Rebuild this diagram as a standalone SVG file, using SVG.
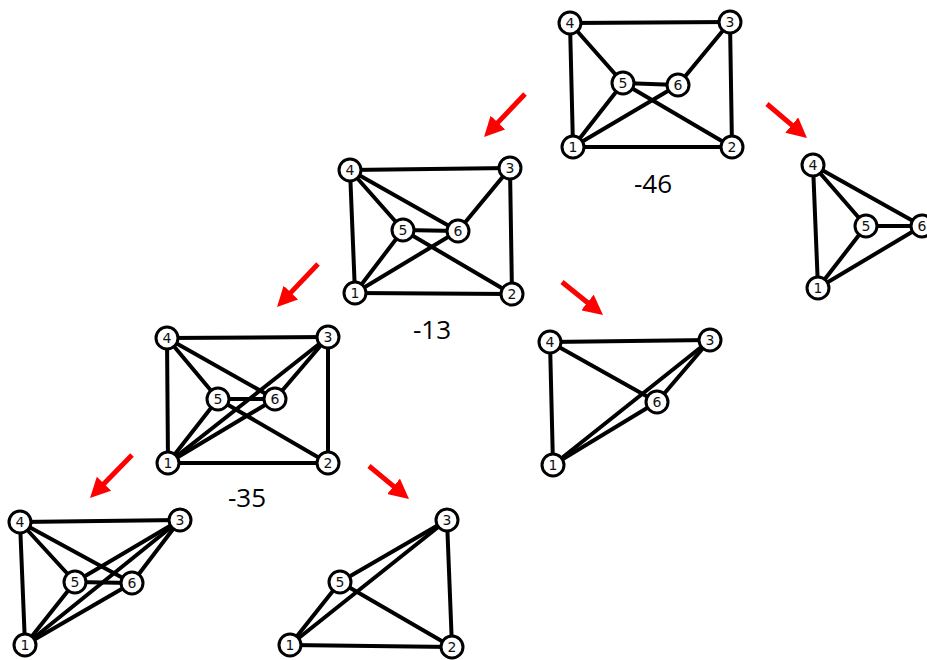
<svg xmlns="http://www.w3.org/2000/svg" width="927" height="660" viewBox="0 0 927 660">
<style>
.e{stroke:#000;stroke-width:4;stroke-linecap:round}
.n circle{fill:#fff;stroke:#000;stroke-width:3}
.n text{font-family:"DejaVu Sans",sans-serif;font-size:14px;text-anchor:middle;dominant-baseline:central;fill:#111}
.lbl{font-family:"Open Sans","Liberation Sans",sans-serif;font-size:26px;text-anchor:middle;fill:#000}
.ar{stroke:#f00;stroke-width:5;marker-end:url(#ah)}
</style>
<defs>
<marker id="ah" viewBox="0 0 10 10" refX="3" refY="5" markerWidth="4" markerHeight="4" orient="auto" markerUnits="strokeWidth">
<path d="M0,0 L10,5 L0,10 z" fill="#f00"/>
</marker>
</defs>
<rect width="927" height="660" fill="#fff"/>
<g id="connectors">
<!-- Graph A -->
<line class="e" x1="570" y1="23" x2="730" y2="22"/>
<line class="e" x1="570" y1="23" x2="573" y2="147"/>
<line class="e" x1="570" y1="23" x2="623" y2="83"/>
<line class="e" x1="730" y1="22" x2="678" y2="85"/>
<line class="e" x1="730" y1="22" x2="732" y2="147"/>
<line class="e" x1="623" y1="83" x2="678" y2="85"/>
<line class="e" x1="623" y1="83" x2="732" y2="147"/>
<line class="e" x1="573" y1="147" x2="623" y2="83"/>
<line class="e" x1="573" y1="147" x2="678" y2="85"/>
<line class="e" x1="573" y1="147" x2="732" y2="147"/>
<!-- Graph B -->
<line class="e" x1="350" y1="170" x2="510" y2="168"/>
<line class="e" x1="350" y1="170" x2="355" y2="293"/>
<line class="e" x1="350" y1="170" x2="403" y2="230"/>
<line class="e" x1="350" y1="170" x2="458" y2="231"/>
<line class="e" x1="510" y1="168" x2="458" y2="231"/>
<line class="e" x1="510" y1="168" x2="512" y2="294"/>
<line class="e" x1="403" y1="230" x2="458" y2="231"/>
<line class="e" x1="403" y1="230" x2="512" y2="294"/>
<line class="e" x1="355" y1="293" x2="403" y2="230"/>
<line class="e" x1="355" y1="293" x2="458" y2="231"/>
<line class="e" x1="355" y1="293" x2="512" y2="294"/>
<!-- Graph C -->
<line class="e" x1="167" y1="338" x2="328" y2="337"/>
<line class="e" x1="167" y1="338" x2="168" y2="463"/>
<line class="e" x1="167" y1="338" x2="218" y2="399"/>
<line class="e" x1="167" y1="338" x2="275" y2="399"/>
<line class="e" x1="328" y1="337" x2="275" y2="399"/>
<line class="e" x1="328" y1="337" x2="328" y2="463"/>
<line class="e" x1="328" y1="337" x2="168" y2="463"/>
<line class="e" x1="218" y1="399" x2="275" y2="399"/>
<line class="e" x1="218" y1="399" x2="328" y2="463"/>
<line class="e" x1="168" y1="463" x2="218" y2="399"/>
<line class="e" x1="168" y1="463" x2="275" y2="399"/>
<line class="e" x1="168" y1="463" x2="328" y2="463"/>
<!-- Graph D -->
<line class="e" x1="20" y1="522" x2="180" y2="520"/>
<line class="e" x1="20" y1="522" x2="25" y2="645"/>
<line class="e" x1="20" y1="522" x2="75" y2="582"/>
<line class="e" x1="20" y1="522" x2="132" y2="583"/>
<line class="e" x1="180" y1="520" x2="75" y2="582"/>
<line class="e" x1="180" y1="520" x2="25" y2="645"/>
<line class="e" x1="180" y1="520" x2="132" y2="583"/>
<line class="e" x1="75" y1="582" x2="132" y2="583"/>
<line class="e" x1="25" y1="645" x2="75" y2="582"/>
<line class="e" x1="25" y1="645" x2="132" y2="583"/>
<!-- Graph E -->
<line class="e" x1="447" y1="520" x2="340" y2="582"/>
<line class="e" x1="447" y1="520" x2="290" y2="645"/>
<line class="e" x1="447" y1="520" x2="452" y2="647"/>
<line class="e" x1="340" y1="582" x2="290" y2="645"/>
<line class="e" x1="340" y1="582" x2="452" y2="647"/>
<line class="e" x1="290" y1="645" x2="452" y2="647"/>
<!-- Graph F -->
<line class="e" x1="550" y1="342" x2="710" y2="340"/>
<line class="e" x1="550" y1="342" x2="553" y2="465"/>
<line class="e" x1="550" y1="342" x2="657" y2="402"/>
<line class="e" x1="710" y1="340" x2="657" y2="402"/>
<line class="e" x1="710" y1="340" x2="553" y2="465"/>
<line class="e" x1="553" y1="465" x2="657" y2="402"/>
<!-- Graph G -->
<line class="e" x1="813" y1="165" x2="818" y2="288"/>
<line class="e" x1="813" y1="165" x2="866" y2="226"/>
<line class="e" x1="813" y1="165" x2="922" y2="226"/>
<line class="e" x1="866" y1="226" x2="922" y2="226"/>
<line class="e" x1="818" y1="288" x2="866" y2="226"/>
<line class="e" x1="818" y1="288" x2="922" y2="226"/>
<!-- red arrows -->
<line class="ar" x1="525" y1="94" x2="493.7" y2="126.9"/>
<line class="ar" x1="767" y1="104" x2="796.3" y2="128.9"/>
<line class="ar" x1="318" y1="264" x2="286.7" y2="296.9"/>
<line class="ar" x1="562" y1="282" x2="592.1" y2="306.2"/>
<line class="ar" x1="132" y1="455" x2="99.8" y2="488"/>
<line class="ar" x1="369" y1="466" x2="398.2" y2="490.1"/>
</g>
<!-- Graph A nodes -->
<g id="A4" class="n"><circle cx="570" cy="23" r="11"/><text x="570" y="23">4</text></g>
<g id="A3" class="n"><circle cx="730" cy="22" r="11"/><text x="730" y="22">3</text></g>
<g id="A5" class="n"><circle cx="623" cy="83" r="11"/><text x="623" y="83">5</text></g>
<g id="A6" class="n"><circle cx="678" cy="85" r="11"/><text x="678" y="85">6</text></g>
<g id="A1" class="n"><circle cx="573" cy="147" r="11"/><text x="573" y="147">1</text></g>
<g id="A2" class="n"><circle cx="732" cy="147" r="11"/><text x="732" y="147">2</text></g>
<text class="lbl" x="653" y="193">-46</text>
<!-- Graph B nodes -->
<g id="B4" class="n"><circle cx="350" cy="170" r="11"/><text x="350" y="170">4</text></g>
<g id="B3" class="n"><circle cx="510" cy="168" r="11"/><text x="510" y="168">3</text></g>
<g id="B5" class="n"><circle cx="403" cy="230" r="11"/><text x="403" y="230">5</text></g>
<g id="B6" class="n"><circle cx="458" cy="231" r="11"/><text x="458" y="231">6</text></g>
<g id="B1" class="n"><circle cx="355" cy="293" r="11"/><text x="355" y="293">1</text></g>
<g id="B2" class="n"><circle cx="512" cy="294" r="11"/><text x="512" y="294">2</text></g>
<text class="lbl" x="432" y="339">-13</text>
<!-- Graph C nodes -->
<g id="C4" class="n"><circle cx="167" cy="338" r="11"/><text x="167" y="338">4</text></g>
<g id="C3" class="n"><circle cx="328" cy="337" r="11"/><text x="328" y="337">3</text></g>
<g id="C5" class="n"><circle cx="218" cy="399" r="11"/><text x="218" y="399">5</text></g>
<g id="C6" class="n"><circle cx="275" cy="399" r="11"/><text x="275" y="399">6</text></g>
<g id="C1" class="n"><circle cx="168" cy="463" r="11"/><text x="168" y="463">1</text></g>
<g id="C2" class="n"><circle cx="328" cy="463" r="11"/><text x="328" y="463">2</text></g>
<text class="lbl" x="247" y="507">-35</text>
<!-- Graph D nodes -->
<g id="D4" class="n"><circle cx="20" cy="522" r="11"/><text x="20" y="522">4</text></g>
<g id="D3" class="n"><circle cx="180" cy="520" r="11"/><text x="180" y="520">3</text></g>
<g id="D5" class="n"><circle cx="75" cy="582" r="11"/><text x="75" y="582">5</text></g>
<g id="D6" class="n"><circle cx="132" cy="583" r="11"/><text x="132" y="583">6</text></g>
<g id="D1" class="n"><circle cx="25" cy="645" r="11"/><text x="25" y="645">1</text></g>
<!-- Graph E nodes -->
<g id="E3" class="n"><circle cx="447" cy="520" r="11"/><text x="447" y="520">3</text></g>
<g id="E5" class="n"><circle cx="340" cy="582" r="11"/><text x="340" y="582">5</text></g>
<g id="E1" class="n"><circle cx="290" cy="645" r="11"/><text x="290" y="645">1</text></g>
<g id="E2" class="n"><circle cx="452" cy="647" r="11"/><text x="452" y="647">2</text></g>
<!-- Graph F nodes -->
<g id="F4" class="n"><circle cx="550" cy="342" r="11"/><text x="550" y="342">4</text></g>
<g id="F3" class="n"><circle cx="710" cy="340" r="11"/><text x="710" y="340">3</text></g>
<g id="F6" class="n"><circle cx="657" cy="402" r="11"/><text x="657" y="402">6</text></g>
<g id="F1" class="n"><circle cx="553" cy="465" r="11"/><text x="553" y="465">1</text></g>
<!-- Graph G nodes -->
<g id="G4" class="n"><circle cx="813" cy="165" r="11"/><text x="813" y="165">4</text></g>
<g id="G5" class="n"><circle cx="866" cy="226" r="11"/><text x="866" y="226">5</text></g>
<g id="G6" class="n"><circle cx="922" cy="226" r="11"/><text x="922" y="226">6</text></g>
<g id="G1" class="n"><circle cx="818" cy="288" r="11"/><text x="818" y="288">1</text></g>
</svg>
